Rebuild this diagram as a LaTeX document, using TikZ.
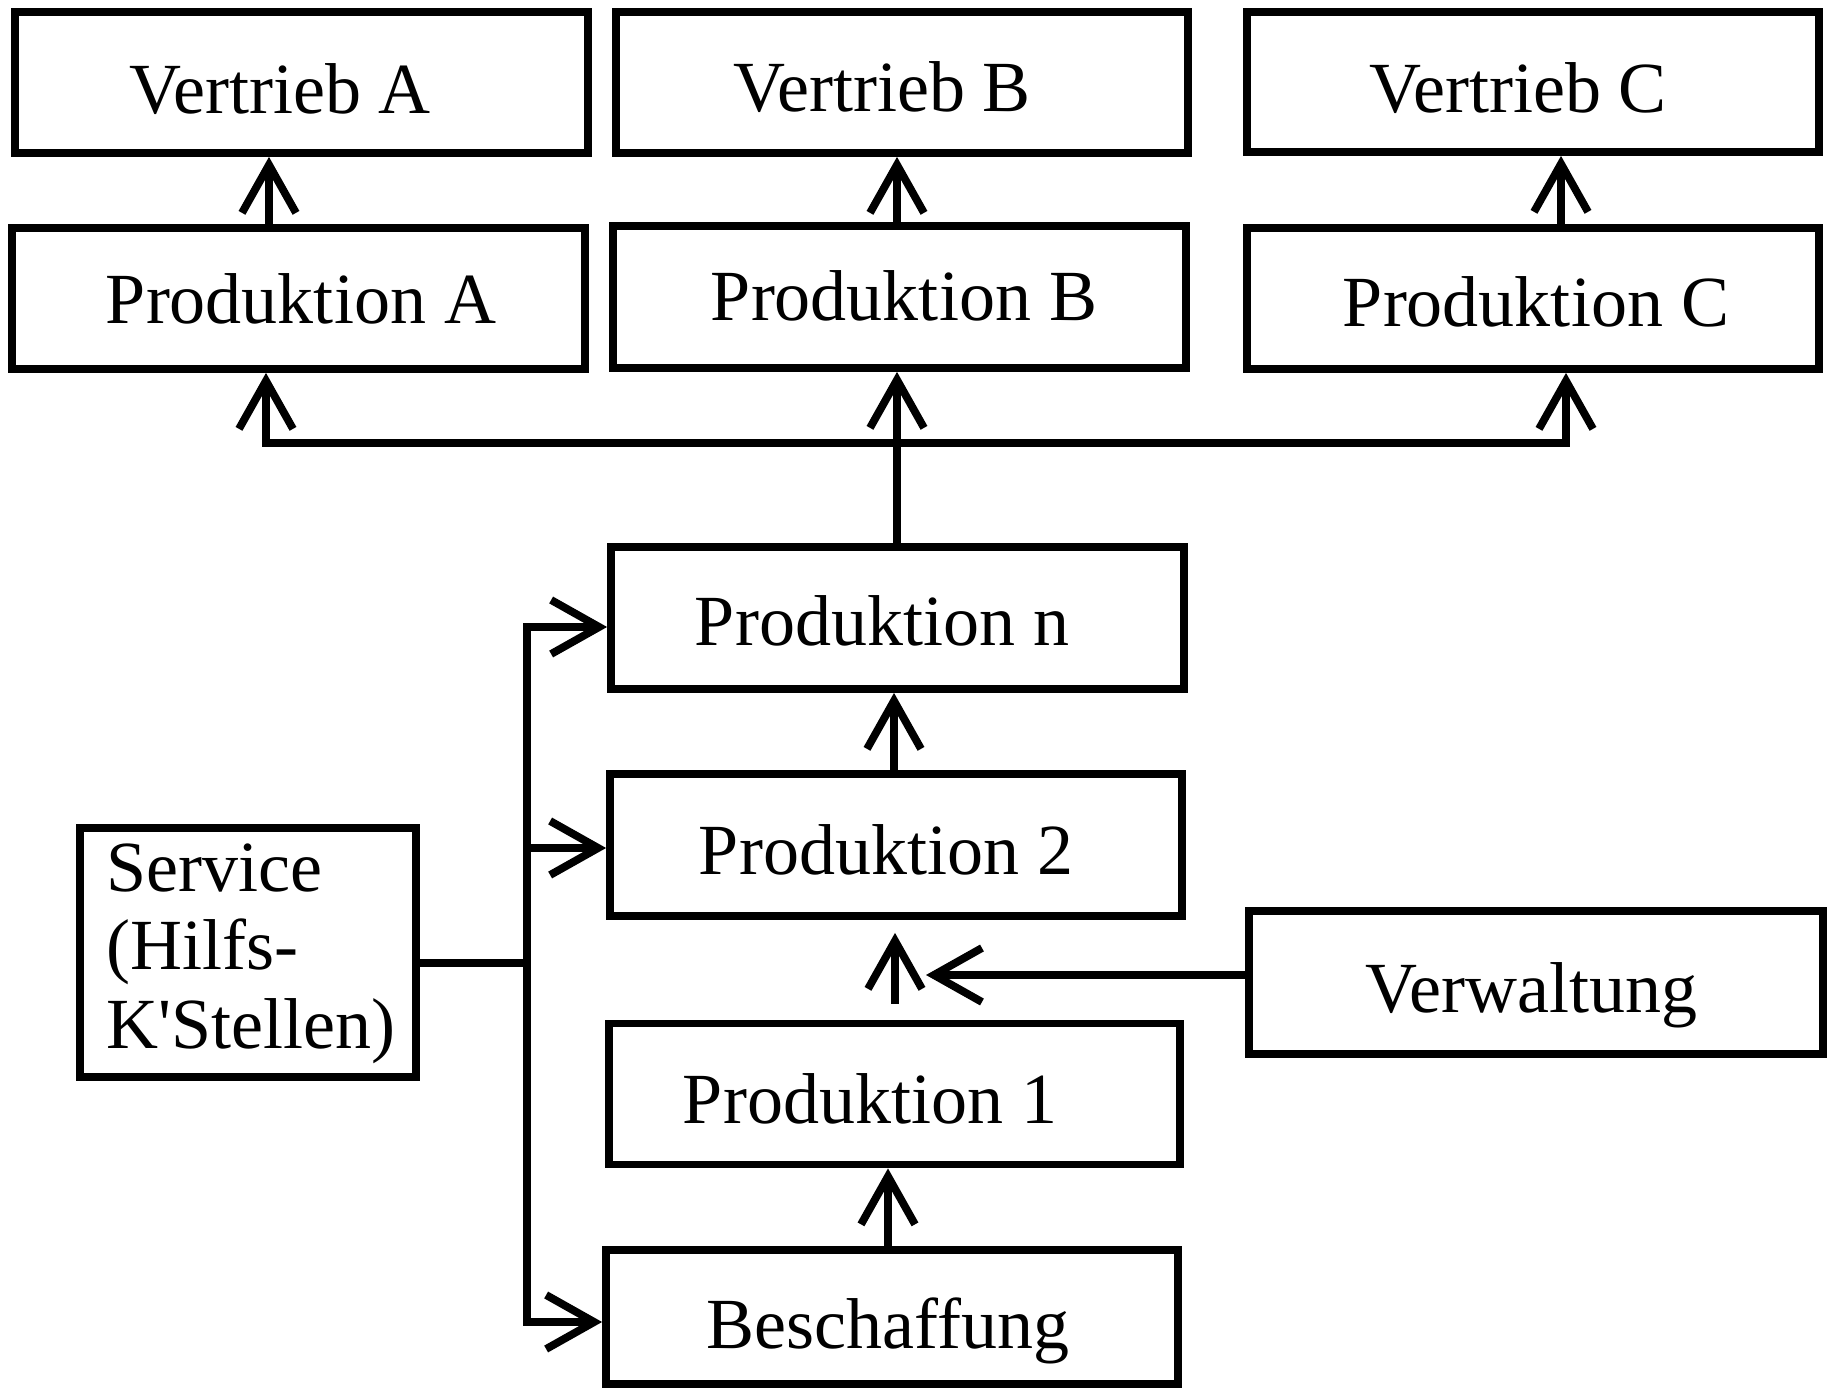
\documentclass[tikz,border=0pt]{standalone}
\usepackage{fontspec}
\setmainfont{Liberation Serif}
\usetikzlibrary{arrows.meta}
\begin{document}
\begin{tikzpicture}[x=0.5pt,y=-0.5pt]
\tikzset{
  box/.style={draw, line width=3.9pt, rectangle, inner sep=0pt},
  lbl/.style={inner sep=0pt, anchor=base, font=\fontsize{36}{40}\selectfont},
  lbll/.style={inner sep=0pt, anchor=base west, font=\fontsize{36}{40}\selectfont},
  conn/.style={line width=3.9pt},
  myhead/.tip={Straight Barb[length=24pt,width=27pt]}
}
\useasboundingbox (0,0) rectangle (1832,1390);
% boxes
\node[box, minimum width=286.5pt, minimum height=70.5pt] (VA) at (301.5,82.5) {};
\node[box, minimum width=286pt, minimum height=70.5pt] (VB) at (902,82.5) {};
\node[box, minimum width=286pt, minimum height=70pt] (VC) at (1533,82) {};
\node[box, minimum width=286.5pt, minimum height=70.5pt] (PA) at (298.5,298.5) {};
\node[box, minimum width=286.5pt, minimum height=71pt] (PB) at (899.5,297) {};
\node[box, minimum width=286pt, minimum height=70.5pt] (PC) at (1533,298.5) {};
\node[box, minimum width=286.5pt, minimum height=71pt] (Pn) at (897.5,618) {};
\node[box, minimum width=286pt, minimum height=71pt] (P2) at (896,845) {};
\node[box, minimum width=285.5pt, minimum height=70.5pt] (P1) at (894.5,1094) {};
\node[box, minimum width=286pt, minimum height=67pt] (Be) at (892,1317) {};
\node[box, minimum width=287pt, minimum height=71.5pt] (Ve) at (1536,982.5) {};
\node[box, minimum width=168pt, minimum height=124.5pt] (Se) at (248,952.5) {};
% labels
\node[lbl] (tVA) at (280,114) {Vertrieb A};
\node[lbl] (tVB) at (882,112) {Vertrieb B};
\node[lbl] (tVC) at (1518,113) {Vertrieb C};
\node[lbl] (tPA) at (301,324) {Produktion A};
\node[lbl] (tPB) at (904,321) {Produktion B};
\node[lbl] (tPC) at (1536,327) {Produktion C};
\node[lbl] (tPn) at (882,645) {Produktion n};
\node[lbl] (tP2) at (886,874) {Produktion 2};
\node[lbl] (tP1) at (870,1123) {Produktion 1};
\node[lbl] (tBe) at (888,1348) {Beschaffung};
\node[lbl] (tVe) at (1531,1012) {Verwaltung};
\node[lbll] (tS1) at (106,891) {Service};
\node[lbll] (tS2) at (106,969) {(Hilfs-};
\node[lbll] (tS3) at (106,1048) {K\textquotesingle Stellen)};
% coordinates
\coordinate (xa) at (269,0);
\coordinate (xb) at (897,0);
\coordinate (xc) at (1561,0);
\coordinate (x2) at (894,0);
\coordinate (x1) at (895,0);
\coordinate (x0) at (888,0);
\coordinate (jL) at (266,443);
\coordinate (jR) at (1566,443);
\coordinate (vw) at (926,975);
\coordinate (s0) at (527,963);
\coordinate (s1) at (527,627);
\coordinate (s2) at (527,848);
\coordinate (s3) at (527,1322);
% connectors
\draw[conn,-myhead] (PA.north -| xa) -- (VA.south -| xa);
\draw[conn,-myhead] (PB.north -| xb) -- (VB.south -| xb);
\draw[conn,-myhead] (PC.north -| xc) -- (VC.south -| xc);
\draw[conn,myhead-myhead] (PA.south -| jL) -- (jL) -- (jR) -- (PC.south -| jR);
\draw[conn,-myhead] (Pn.north -| xb) -- (PB.south -| xb);
\draw[conn,-myhead] (P2.north -| x2) -- (Pn.south -| x2);
\draw[conn,-myhead,shorten <=8pt,shorten >=6.5pt] (P1.north -| x1) -- (P2.south -| x1);
\draw[conn,-myhead] (Be.north -| x0) -- (P1.south -| x0);
\draw[conn,-myhead] (Ve.west |- vw) -- (vw);
\draw[conn] (Se.east |- s0) -- (s0);
\draw[conn,myhead-myhead] (Pn.west |- s1) -- (s1) -- (s3) -- (Be.west |- s3);
\draw[conn,-myhead] (s2) -- (P2.west |- s2);
\end{tikzpicture}
\end{document}
